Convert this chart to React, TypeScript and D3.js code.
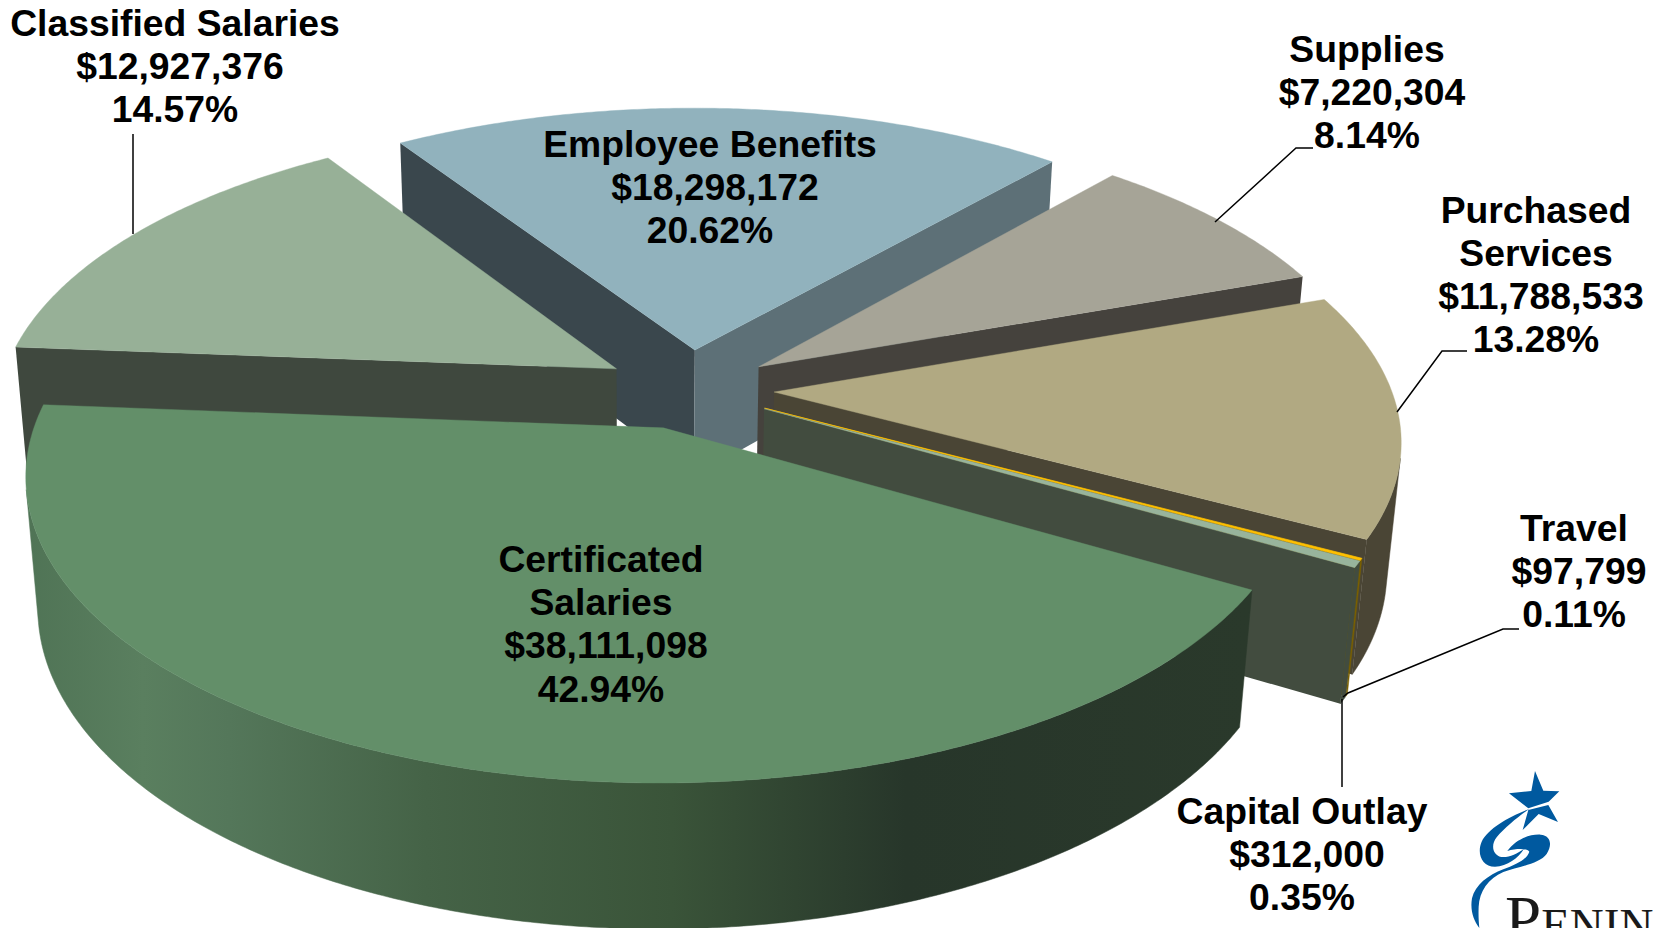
import React from "react";
import * as d3 from "d3";

// Budget categories, clockwise from the back of the pie
const categories = ["Employee Benefits", "Supplies", "Purchased Services", "Travel", "Capital Outlay", "Certificated Salaries", "Classified Salaries"];
const amounts = [18298172, 7220304, 11788533, 97799, 312000, 38111098, 12927376];
const percents = ["20.62%", "8.14%", "13.28%", "0.11%", "0.35%", "42.94%", "14.57%"];

// Label line breaks, by category index
const labelNames = [["Employee Benefits"], ["Supplies"], ["Purchased", "Services"], ["Travel"], ["Capital Outlay"], ["Certificated", "Salaries"], ["Classified Salaries"]];
const labelCentres: [number, number][] = [[710, 144], [1367, 49], [1536, 209.5], [1574, 528], [1302, 811], [601, 559], [175, 22.5]];

const topFill = ["#91B2BD", "#A6A497", "#B1A982", "#FFC000", "#98B49C", "#638F69", "#97B097"];
const wallFill = ["#5D7077", "#45423D", "#4A4535", "#7A6000", "#424C3F", "#29382A", "#3F483E"];
const startWallFill = ["#3A474D", "#45423D", "#4A4535", "#7A6000", "#424C3F", "#29382A", "#3F483E"];
const paintOrder = [0, 1, 6, 2, 3, 4, 5];

const leaders = [
  [[133, 134], [133, 234]],
  [[1313, 148], [1296, 148], [1215, 222]],
  [[1467, 351], [1442, 351], [1397, 412]],
  [[1519, 629], [1503, 629], [1348, 693], [1343, 697]],
  [[1342, 787], [1342, 699]],
];

const WIDTH = 1654;
const HEIGHT = 928;
const centre = { x: 689, y: 389 };
const radiusX = 617;
const radiusY = 289;
const perspective = 0.15;
const explode = 0.138;
const firstAngle = 326.9;
const vanishing = { x: 645, y: 7268 };
const rimHeight = d3.scaleLinear().domain([344, 783]).range([126, 146]);
const lineHeight = 43.2;
const deg = Math.PI / 180;

type Pt = [number, number];

function project(u: number, v: number): Pt {
  const w = 1 - perspective * v;
  return [centre.x + (radiusX * u) / w, centre.y + (radiusY * v) / w];
}

// Slides a point of the top face down to the base of the solid
function dropToBase(p: Pt): Pt {
  const h = rimHeight(p[1]);
  const f = h / (vanishing.y - p[1]);
  return [p[0] + (vanishing.x - p[0]) * f, p[1] + h];
}

const toPath = d3.line<Pt>();
const closed = (pts: Pt[]) => toPath(pts) + "Z";

const pie = d3
  .pie<number>()
  .sort(null)
  .startAngle(firstAngle * deg)
  .endAngle((firstAngle + 360) * deg);

function buildSlice(a0: number, a1: number) {
  const mid = (a0 + a1) / 2;
  const ou = explode * Math.sin(mid);
  const ov = -explode * Math.cos(mid);
  const apex = project(ou, ov);
  const steps = Math.max(2, Math.ceil((a1 - a0) / (0.5 * deg)));
  const arc: Pt[] = d3.range(steps + 1).map((i) => {
    const t = a0 + ((a1 - a0) * i) / steps;
    return project(ou + Math.sin(t), ov - Math.cos(t));
  });
  const top = [apex, ...arc];
  const faces = (a: Pt, b: Pt) => d3.polygonArea([a, b, dropToBase(b), dropToBase(a)]) > 0;
  const wall = (a: Pt, b: Pt) => closed([a, b, dropToBase(b), dropToBase(a)]);
  const startWall = faces(apex, arc[0]) ? wall(apex, arc[0]) : null;
  const endWall = faces(arc[arc.length - 1], apex) ? wall(arc[arc.length - 1], apex) : null;
  // Collect the runs of the outer rim that turn towards the viewer
  const rims: string[] = [];
  let run: Pt[] = [];
  const flush = () => {
    if (run.length > 1) rims.push(closed([...run, ...run.map(dropToBase).reverse()]));
    run = [];
  };
  for (let i = 0; i < arc.length - 1; i++) {
    if (faces(arc[i], arc[i + 1])) {
      if (!run.length) run.push(arc[i]);
      run.push(arc[i + 1]);
    } else flush();
  }
  flush();
  return { top: closed(top), startWall, endWall, rims };
}

const slices = pie(amounts).map((d) => buildSlice(d.startAngle, d.endAngle));

const dollars = d3.format("$,");

function Logo() {
  // Emblem drawn in a 3x working grid, with the wordmark running off the edge
  return (
    <g>
      <g transform="translate(1420,750) scale(0.3333)" fill="#00599F">
        <path d="M345,63L370,122L418,124L386,155L325,175L267,130L334,123Z" />
        <path d="M385,165L414,216L356,192L308,240L325,180Z" />
        <path d="M328,177C270,198 205,235 185,275C170,310 185,350 225,350C262,348 295,325 312,296C290,312 262,325 240,320C218,312 212,285 230,262C255,232 295,200 328,177Z" />
        <path d="M262,303C285,270 325,252 362,254C392,256 398,285 380,312C358,342 295,350 250,366C205,385 178,425 176,470C175,495 176,515 178,534C160,510 150,480 156,445C165,405 205,375 250,358C285,345 320,330 328,305C322,295 290,295 262,303Z" />
      </g>
      <text x={1505} y={941} fontFamily="'Liberation Serif'" fontSize={65} fill="#1A1A1A">
        P<tspan fontSize={47}>ENIN</tspan>
      </text>
    </g>
  );
}

export default function App() {
  return (
    <svg width={WIDTH} height={HEIGHT} viewBox={`0 0 ${WIDTH} ${HEIGHT}`} style={{ position: "absolute", left: 0, top: 0, background: "#fff" }}>
      <defs>
        <linearGradient id="rimShade" gradientUnits="userSpaceOnUse" x1={20} y1={0} x2={1250} y2={0}>
          <stop offset="0" stopColor="#4F7355" />
          <stop offset="0.1" stopColor="#5A7F5F" />
          <stop offset="0.17" stopColor="#54775A" />
          <stop offset="0.33" stopColor="#456347" />
          <stop offset="0.53" stopColor="#3A5439" />
          <stop offset="0.72" stopColor="#27362A" />
          <stop offset="1" stopColor="#2A392B" />
        </linearGradient>
      </defs>
      {paintOrder.map((i) => {
        const s = slices[i];
        const rimFill = i === 5 ? "url(#rimShade)" : wallFill[i];
        return (
          <g key={categories[i]}>
            {s.startWall && <path d={s.startWall} fill={startWallFill[i]} />}
            {s.endWall && <path d={s.endWall} fill={wallFill[i]} />}
            {s.rims.map((d, k) => (
              <path key={k} d={d} fill={rimFill} stroke={rimFill} strokeWidth={0.5} />
            ))}
            <path d={s.top} fill={topFill[i]} stroke={topFill[i]} strokeWidth={amounts[i] < 200000 ? 0.7 : 0.4} />
          </g>
        );
      })}
      {leaders.map((pts, i) => (
        <path key={i} d={toPath(pts as Pt[]) as string} fill="none" stroke="#000" strokeWidth={1.5} />
      ))}
      <g fontFamily="'Liberation Sans', Arial, sans-serif" fontWeight={700} fontSize={37.3} fill="#000" textAnchor="middle">
        {categories.map((c, i) => {
          const lines = [...labelNames[i], dollars(amounts[i]), percents[i]];
          const [x, y] = labelCentres[i];
          return (
            <text key={c}>
              {lines.map((t, j) => (
                <tspan key={j} x={t.startsWith("$") ? x + 5 : x} y={y + 13 + j * lineHeight}>
                  {t}
                </tspan>
              ))}
            </text>
          );
        })}
      </g>
      <Logo />
    </svg>
  );
}
